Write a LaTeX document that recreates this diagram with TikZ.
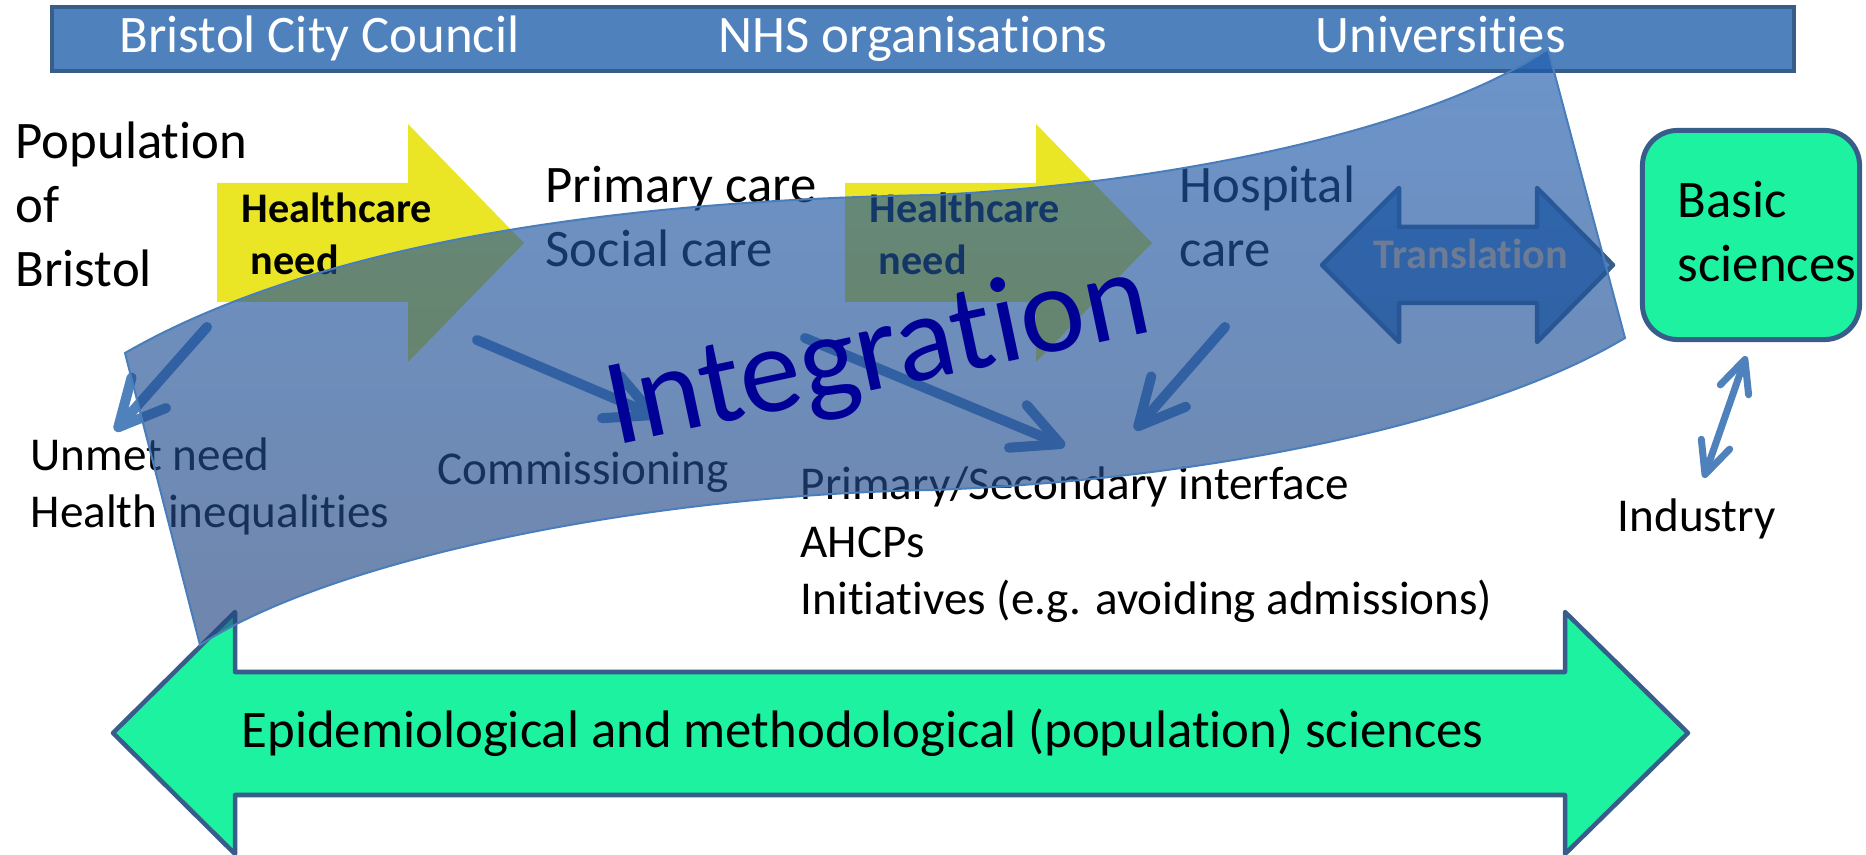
\documentclass[tikz,border=0pt]{standalone}
\usepackage{fontspec}
\setmainfont{Carlito}[Ligatures=NoCommon]
\usepackage{tikz}
\usetikzlibrary{arrows.meta}

\definecolor{officeblue}{RGB}{79,129,189}
\definecolor{edgeblue}{RGB}{56,93,138}
\definecolor{needyellow}{RGB}{235,230,37}
\definecolor{mint}{RGB}{28,242,160}
\definecolor{bandtop}{RGB}{30,92,175}
\definecolor{bandbot}{RGB}{35,70,128}
\definecolor{bandline}{RGB}{74,126,187}
\definecolor{navy}{RGB}{0,0,150}
\definecolor{transgrey}{RGB}{108,124,150}

\newcommand{\bigtext}{\fontsize{15pt}{18.3pt}\selectfont}
\newcommand{\smalltext}{\fontsize{13.4pt}{16.4pt}\selectfont}
\newcommand{\needtext}{\fontsize{12pt}{14.8pt}\selectfont\bfseries}

\begin{document}
\begin{tikzpicture}[x=0.01cm, y=-0.01cm,
  txt/.style={inner sep=0pt, anchor=base west, align=left},
  flow/.style={draw=officeblue, line width=0.1cm, line cap=round,
    -{Straight Barb[length=4.6mm, width=4.6mm, round]}},
  blockarrow/.style={draw=edgeblue, line width=0.045cm, line join=round}]

\fill[white, use as bounding box] (0,0) rectangle (1866,855);

% banner across the top
\draw[fill=officeblue, draw=edgeblue, line width=0.04cm] (52,7) rectangle (1794,71);
\node[txt, text=white, font=\bigtext] (bcc) at (119,53) {Bristol City Council};
\node[txt, text=white, font=\bigtext] (nhs) at (718,53) {NHS organisations};
\node[txt, text=white, font=\bigtext] (uni) at (1315,53) {Universities};

% the two healthcare need arrows (base = last line)
\foreach \dx/\nm in {0/needa, 628/needb} {
  \fill[needyellow, shift={(\dx,0)}]
  (217,183) -- (408,183) -- (408,124) -- (524,243) -- (408,362) -- (408,302) -- (217,302) -- cycle;
  \node[txt, font=\needtext] (\nm) at (241+\dx,275) {Healthcare\\\hspace*{0.22em}need};
}

\node[txt, font=\bigtext] (pop) at (15,287) {Population\\of\\Bristol};
\node[txt, font=\bigtext] (pcare) at (545,267) {Primary care\\Social care};
\node[txt, font=\bigtext] (hosp) at (1179,267) {Hospital\\care};
\node[txt, font=\smalltext] (unmet) at (30,528) {Unmet need\\Health inequalities};
\node[txt, font=\smalltext] (comm) at (437,485) {Commissioning};
\node[txt, font=\smalltext] (psi) at (800,615)
  {Primary/Secondary interface\\AHCPs\\Initiatives (e.g. avoiding admissions)};
\node[txt, font=\smalltext] (ind) at (1617,532) {Industry};

% basic sciences box
\node[draw=edgeblue, fill=mint, line width=0.05cm, rounded corners=0.35cm,
  minimum width=2.17cm, minimum height=2.09cm] (basic) at (1751,235) {};
\node[txt, font=\bigtext] (basictxt) at (1677,282) {Basic\\sciences};
\draw[officeblue, line width=0.07cm, line cap=round,
  {Straight Barb[length=3.2mm, width=3mm, round]}-{Straight Barb[length=3.2mm, width=3mm, round]},
  shorten <=0.15cm, shorten >=0.22cm] (basic.south) -- (ind.north);

% population sciences arrow
\draw[blockarrow, fill=mint]
(113,733) -- (235,612) -- (235,672) -- (1565,672) -- (1565,612) -- (1688,733)
-- (1565,854) -- (1565,795) -- (235,795) -- (235,854) -- cycle;
\node[txt, font=\bigtext] (epi) at (241,747)
  {Epidemiological and methodological (population) sciences};

% translation arrow
\draw[blockarrow, fill=officeblue]
(1322,265) -- (1399,188) -- (1399,227) -- (1537,227) -- (1537,188) -- (1613,265)
-- (1537,342) -- (1537,303) -- (1399,303) -- (1399,342) -- cycle;

% small flow arrows
\coordinate (a1s) at (207,327);  \coordinate (a1e) at (115,431);
\coordinate (a2s) at (477,340);  \coordinate (a2e) at (658,417);
\coordinate (a3s) at (805,338);  \coordinate (a3e) at (1065,446);
\coordinate (a4s) at (1225,327); \coordinate (a4e) at (1135,430);
\foreach \i in {1,...,4}
  \draw[flow] (a\i s) -- (a\i e);

% the integration band
\path[top color=bandtop, bottom color=bandbot, fill opacity=0.65,
  draw=bandline, line width=0.02cm]
(125,353) .. controls (330,235) and (650,200) .. (933,195)
.. controls (1150,185) and (1420,135) .. (1548,49)
-- (1625,338)
.. controls (1480,425) and (1200,480) .. (933,490)
.. controls (640,495) and (330,560) .. (200,645) -- cycle;

\node[inner sep=0pt, anchor=base, font=\needtext, text=transgrey] (transl) at (1471,269) {Translation};
\node[inner sep=0pt, anchor=base, rotate=12, text=navy,
  font=\fontsize{35pt}{42pt}\selectfont] (integ) at (885,388) {Integration};
\end{tikzpicture}
\end{document}
